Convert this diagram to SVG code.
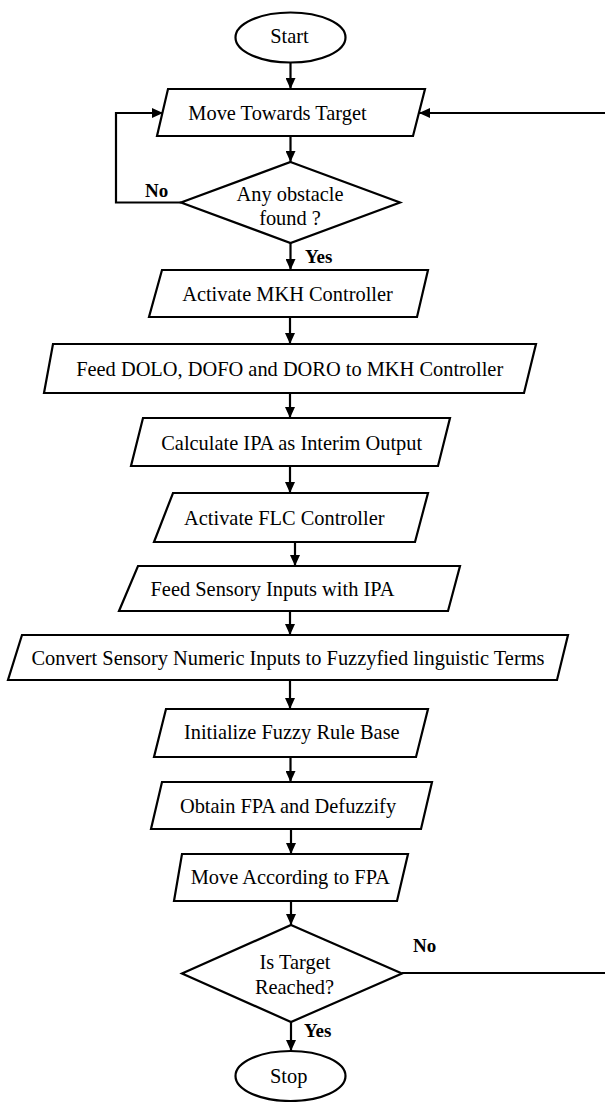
<svg xmlns="http://www.w3.org/2000/svg" width="605" height="1102" viewBox="0 0 605 1102">
<style>
.s{fill:#fff;stroke:#000;stroke-width:2.2;stroke-linejoin:miter}
.t{font-family:"Liberation Serif","Times New Roman",serif;font-size:20.4px;fill:#000;text-anchor:middle}
.l{font-family:"Liberation Serif","Times New Roman",serif;font-size:19px;font-weight:bold;fill:#000}
.c{fill:none;stroke:#000;stroke-width:2.2;marker-end:url(#ah)}
</style>
<defs>
<marker id="ah" markerUnits="userSpaceOnUse" markerWidth="11" markerHeight="10" refX="11" refY="5" orient="auto">
<path d="M0,0 L11,5 L0,10 z" fill="#000"/>
</marker>
</defs>
<rect width="605" height="1102" fill="#fff"/>
<g id="connectors">
<path class="c" d="M290.5,62.5 V89"/>
<path class="c" d="M290.5,136 V162"/>
<path class="c" d="M290.5,243 V270"/>
<path class="c" d="M290,317 V344"/>
<path class="c" d="M290,393 V418"/>
<path class="c" d="M290,466 V493"/>
<path class="c" d="M295,542 V566"/>
<path class="c" d="M290,611 V635"/>
<path class="c" d="M290,680 V709"/>
<path class="c" d="M290.5,757 V782"/>
<path class="c" d="M291,829 V854"/>
<path class="c" d="M291,901 V925"/>
<path class="c" d="M291,1022 V1051"/>
<path class="c" d="M181,202.5 H116 V113 H163"/>
<path class="c" d="M402,973 H610 V113 H419"/>
<text class="l" x="145" y="197">No</text>
<text class="l" x="305" y="262.5">Yes</text>
<text class="l" x="413" y="952">No</text>
<text class="l" x="304" y="1037">Yes</text>
</g>
<g id="start">
<ellipse class="s" cx="290.5" cy="37.5" rx="55" ry="25"/>
<text class="t" x="289.5" y="43">Start</text>
</g>
<g id="move-towards-target">
<polygon class="s" points="168,89 425,89 413,136 157,136"/>
<text class="t" x="277.5" y="120">Move Towards Target</text>
</g>
<g id="obstacle-decision">
<polygon class="s" points="290.5,162 400,202.5 290.5,243 181,202.5"/>
<text class="t" x="290" y="200.5">Any obstacle</text>
<text class="t" x="290" y="224.5">found ?</text>
</g>
<g id="activate-mkh">
<polygon class="s" points="162,270 428,270 417,317 149,317"/>
<text class="t" x="287.5" y="301">Activate MKH Controller</text>
</g>
<g id="feed-dolo">
<polygon class="s" points="53,344 536,344 524,393 44,393"/>
<text class="t" x="289.7" y="376">Feed DOLO, DOFO and DORO to MKH Controller</text>
</g>
<g id="calculate-ipa">
<polygon class="s" points="143,418 450,418 438,466 131,466"/>
<text class="t" x="291.7" y="449.5">Calculate IPA as Interim Output</text>
</g>
<g id="activate-flc">
<polygon class="s" points="173,493 428,493 415,542 154,542"/>
<text class="t" x="284.3" y="524.5">Activate FLC Controller</text>
</g>
<g id="feed-sensory">
<polygon class="s" points="138,566 460,566 448,611 119,611"/>
<text class="t" x="272.5" y="596">Feed Sensory Inputs with IPA</text>
</g>
<g id="convert">
<polygon class="s" points="22,635 568,635 557,680 8,680"/>
<text class="t" x="288" y="664.5">Convert Sensory Numeric Inputs to Fuzzyfied linguistic Terms</text>
</g>
<g id="initialize">
<polygon class="s" points="166,709 428,709 416,757 154,757"/>
<text class="t" x="291.8" y="739">Initialize Fuzzy Rule Base</text>
</g>
<g id="obtain-fpa">
<polygon class="s" points="162,782 432,782 421,829 151,829"/>
<text class="t" x="288" y="812.5">Obtain FPA and Defuzzify</text>
</g>
<g id="move-according">
<polygon class="s" points="182,854 408,854 397,901 174,901"/>
<text class="t" x="290.3" y="884">Move According to FPA</text>
</g>
<g id="target-decision">
<polygon class="s" points="291,925 402,973.5 291,1022 182,973.5"/>
<text class="t" x="295" y="969">Is Target</text>
<text class="t" x="294.5" y="994">Reached?</text>
</g>
<g id="stop">
<ellipse class="s" cx="290.5" cy="1076" rx="55" ry="25"/>
<text class="t" x="288.7" y="1082.5">Stop</text>
</g>
</svg>
